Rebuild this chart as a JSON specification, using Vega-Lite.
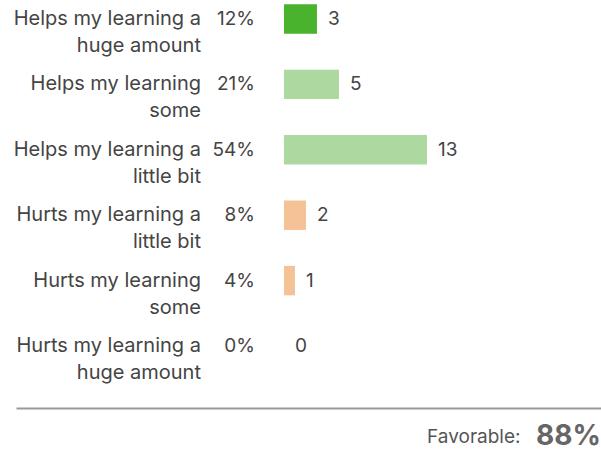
{
  "$schema": "https://vega.github.io/schema/vega-lite/v6.json",
  "width": 585,
  "height": 365,
  "autosize": "none",
  "padding": {"left": 16, "top": 0, "right": 0, "bottom": 84},
  "background": "white",
  "config": {"view": {"stroke": null}},
  "title": {"text": "88%", "orient": "bottom", "anchor": "end", "frame": "group", "fontSize": 28, "fontWeight": "bold", "color": "#666666", "font": "Inter", "offset": 0, "baseline": "alphabetic", "dy": -1},
  "data": {
    "values": [
      {"cat": "Helps my learning a\nhuge amount", "pct": 0.12, "n": 3},
      {"cat": "Helps my learning\nsome", "pct": 0.21, "n": 5},
      {"cat": "Helps my learning a\nlittle bit", "pct": 0.54, "n": 13},
      {"cat": "Hurts my learning a\nlittle bit", "pct": 0.08, "n": 2},
      {"cat": "Hurts my learning\nsome", "pct": 0.04, "n": 1},
      {"cat": "Hurts my learning a\nhuge amount", "pct": 0.0, "n": 0}
    ]
  },
  "encoding": {
    "y": {"field": "cat", "type": "nominal", "sort": null, "scale": {"paddingInner": 0.55, "paddingOuter": 0.0657}, "axis": null}
  },
  "layer": [
    {
      "mark": {"type": "bar"},
      "encoding": {
        "x": {"field": "n", "type": "quantitative", "scale": {"domain": [-24.36, 28.82], "nice": false, "zero": false},
          "axis": {"orient": "bottom", "offset": 43, "domainColor": "#999999", "domainWidth": 2, "ticks": false, "labels": false, "grid": false,
            "title": "Favorable:", "titleFont": "Inter", "titleFontSize": 19, "titleFontWeight": "normal", "titleColor": "#555555",
            "titleAlign": "right", "titleAnchor": "end", "titleX": 504, "titleY": 34, "titleBaseline": "alphabetic"}},
        "x2": {"datum": 0},
        "color": {"field": "cat", "type": "nominal", "legend": null,
          "scale": {"domain": ["Helps my learning a\nhuge amount", "Helps my learning\nsome", "Helps my learning a\nlittle bit", "Hurts my learning a\nlittle bit", "Hurts my learning\nsome", "Hurts my learning a\nhuge amount"],
            "range": ["#4AB32E", "#ADD8A0", "#ADD8A0", "#F5C297", "#F5C297", "#F0A070"]}}
      }
    },
    {
      "mark": {"type": "text", "align": "right", "baseline": "middle", "lineBreak": "\n", "lineHeight": 27, "fontSize": 20, "font": "Inter", "color": "#444444"},
      "encoding": {"x": {"datum": -7.545}, "text": {"field": "cat"}}
    },
    {
      "mark": {"type": "text", "align": "right", "baseline": "middle", "fontSize": 19, "font": "Inter", "color": "#444444"},
      "encoding": {"x": {"datum": -2.636}, "text": {"field": "pct", "format": ".0%"}}
    },
    {
      "mark": {"type": "text", "align": "left", "baseline": "middle", "dx": 11, "fontSize": 19, "font": "Inter", "color": "#444444"},
      "encoding": {"x": {"field": "n", "type": "quantitative"}, "text": {"field": "n"}}
    }
  ]
}
